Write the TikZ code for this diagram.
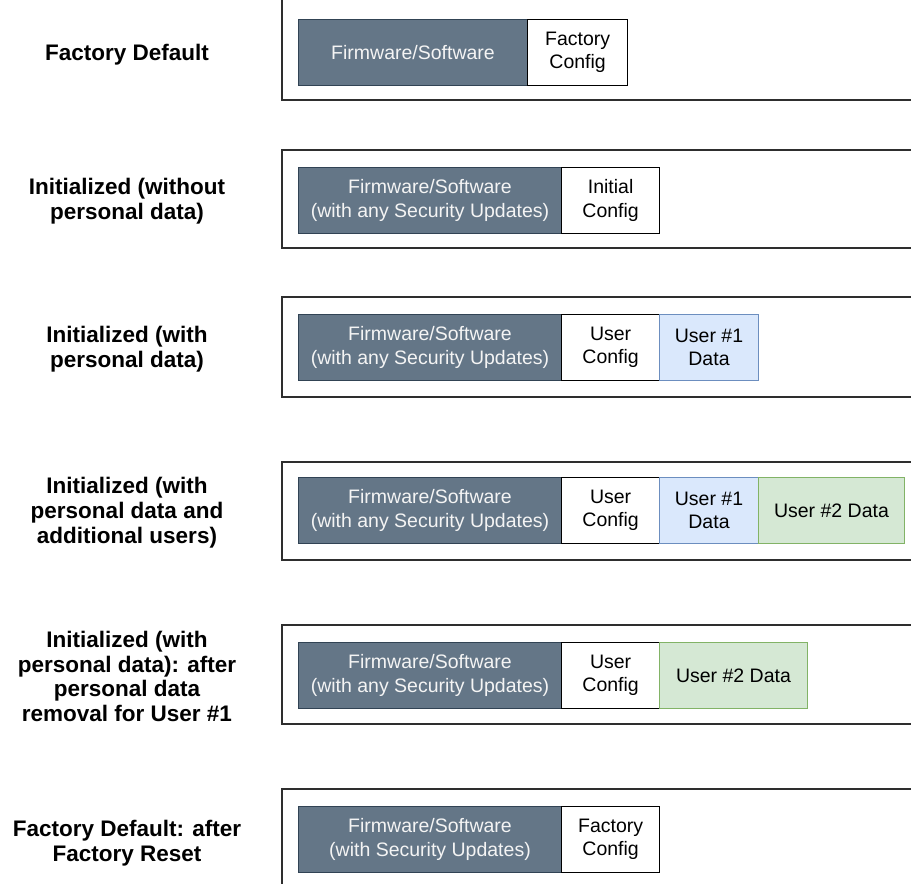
\documentclass[tikz,border=0pt]{standalone}
\usepackage{fontspec}
\setmainfont{Liberation Sans}

\definecolor{fwfill}{HTML}{647687}
\definecolor{fwline}{HTML}{314354}
\definecolor{fwtext}{HTML}{F4F4F4}
\definecolor{bluefill}{HTML}{DAE8FC}
\definecolor{blueline}{HTML}{6C8EBF}
\definecolor{greenfill}{HTML}{D5E8D4}
\definecolor{greenline}{HTML}{82B366}
\definecolor{framecol}{HTML}{2E2E2E}

\tikzset{
  part/.style={rectangle, anchor=north west, inner sep=0pt, minimum height=66pt,
    align=center, line width=1pt, font={\fontsize{19.5}{23.3}\selectfont}},
  fw/.style={part, fill=fwfill, draw=fwline, text=fwtext},
  cfg/.style={part, fill=white, draw=black, line width=1.2pt},
  uone/.style={part, fill=bluefill, draw=blueline},
  utwo/.style={part, fill=greenfill, draw=greenline},
  state/.style={align=center, yshift=-2.5pt, font={\fontsize{22.5}{24.8}\selectfont\bfseries}},
  frame/.style={draw=framecol, line width=1.6pt},
}

\begin{document}
\begin{tikzpicture}[x=1pt, y=-1pt]
  \useasboundingbox (0,0) rectangle (911,884);
  \clip (0,0) rectangle (911,884);
  \fill[white] (0,0) rectangle (911,884);

  % device frames (open to the right)
  \draw[frame] (930,-20)  -- (282,-20)  -- (282,100) -- (930,100);
  \draw[frame] (930,150)  -- (282,150)  -- (282,248) -- (930,248);
  \draw[frame] (930,297)  -- (282,297)  -- (282,397) -- (930,397);
  \draw[frame] (930,462)  -- (282,462)  -- (282,560) -- (930,560);
  \draw[frame] (930,625)  -- (282,625)  -- (282,724) -- (930,724);
  \draw[frame] (930,789)  -- (282,789)  -- (282,920) -- (930,920);

  % state labels
  \node[state] (s1) at (127,52)  {Factory Default};
  \node[state] (s2) at (127,199) {Initialized (without\\personal data)};
  \node[state] (s3) at (127,347) {Initialized (with\\personal data)};
  \node[state] (s4) at (127,510) {Initialized (with\\personal data and\\additional users)};
  \node[state] (s5) at (127,674) {Initialized (with\\personal data): after\\personal data\\removal for User \#1};
  \node[state] (s6) at (127,841) {Factory Default: after\\Factory Reset};

  % row 1
  \node[fw,  minimum width=229pt] (fw1)  at (298,19) {Firmware/Software};
  \node[cfg, minimum width=100pt] (cfg1) at (527,19) {Factory\\Config};

  % row 2
  \node[fw,  minimum width=263pt] (fw2)  at (298,167) {Firmware/Software\\(with any Security Updates)};
  \node[cfg, minimum width=98pt]  (cfg2) at (561,167) {Initial\\Config};

  % row 3
  \node[fw,  minimum width=263pt] (fw3)  at (298,314) {Firmware/Software\\(with any Security Updates)};
  \node[cfg, minimum width=98pt]  (cfg3) at (561,314) {User\\Config};
  \node[uone, minimum width=99pt] (ua3)  at (659,314) {User \#1\\Data};

  % row 4
  \node[fw,  minimum width=263pt] (fw4)  at (298,477) {Firmware/Software\\(with any Security Updates)};
  \node[cfg, minimum width=98pt]  (cfg4) at (561,477) {User\\Config};
  \node[uone, minimum width=99pt] (ua4)  at (659,477) {User \#1\\Data};
  \node[utwo, minimum width=146pt] (ub4) at (758,477) {User \#2 Data};

  % row 5
  \node[fw,  minimum width=263pt] (fw5)  at (298,642) {Firmware/Software\\(with any Security Updates)};
  \node[cfg, minimum width=98pt]  (cfg5) at (561,642) {User\\Config};
  \node[utwo, minimum width=148pt] (ub5) at (659,642) {User \#2 Data};

  % row 6
  \node[fw,  minimum width=263pt] (fw6)  at (298,806) {Firmware/Software\\(with Security Updates)};
  \node[cfg, minimum width=98pt]  (cfg6) at (561,806) {Factory\\Config};
\end{tikzpicture}
\end{document}
